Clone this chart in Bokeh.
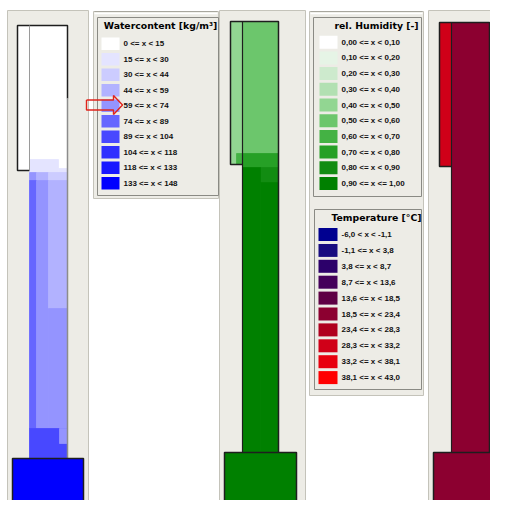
import numpy as np
from bokeh.plotting import figure
from bokeh.models import Range1d
from bokeh.core.properties import value
from bokeh.embed import file_html
from bokeh.resources import INLINE

# ---------------- legend classes ----------------
wc_title = "Watercontent [kg/m³]"
wc_bounds = [0, 15, 30, 44, 59, 74, 89, 104, 118, 133, 148]
wc_labels = ["0 <= x < 15", "15 <= x < 30", "30 <= x < 44", "44 <= x < 59", "59 <= x < 74",
             "74 <= x < 89", "89 <= x < 104", "104 <= x < 118", "118 <= x < 133", "133 <= x < 148"]
wc_colors = ["#FFFFFF", "#E4E4FF", "#CCCCFF", "#B2B2FF", "#9494FF",
             "#6666FF", "#4848FF", "#3030FF", "#1818FF", "#0000FF"]

rh_title = "rel. Humidity [-]"
rh_bounds = [0.0, 0.1, 0.2, 0.3, 0.4, 0.5, 0.6, 0.7, 0.8, 0.9, 1.0001]
rh_labels = ["0,00 <= x < 0,10", "0,10 <= x < 0,20", "0,20 <= x < 0,30", "0,30 <= x < 0,40",
             "0,40 <= x < 0,50", "0,50 <= x < 0,60", "0,60 <= x < 0,70", "0,70 <= x < 0,80",
             "0,80 <= x < 0,90", "0,90 <= x <= 1,00"]
rh_colors = ["#FFFFFF", "#E6F4E6", "#CDEACD", "#B2E0B2", "#92D692",
             "#6CC66C", "#44B244", "#26A026", "#128C12", "#008000"]

t_title = "Temperature [°C]"
t_bounds = [-6.0, -1.1, 3.8, 8.7, 13.6, 18.5, 23.4, 28.3, 33.2, 38.1, 43.0]
t_labels = ["-6,0 < x < -1,1", "-1,1 <= x < 3,8", "3,8 <= x < 8,7", "8,7 <= x < 13,6",
            "13,6 <= x < 18,5", "18,5 <= x < 23,4", "23,4 <= x < 28,3", "28,3 <= x < 33,2",
            "33,2 <= x < 38,1", "38,1 <= x < 43,0"]
t_colors = ["#000090", "#180C80", "#2C006A", "#44005A", "#5E0044",
            "#8C0030", "#B0001E", "#D00018", "#E8000E", "#FF0000"]

# ---------------- column cells (screen-unit mesh) and cell values ----------------
wc_left   = [17, 29, 58, 58, 29, 29, 36, 48, 29, 36, 48, 48, 29, 59, 12]
wc_right  = [29, 67, 67, 67, 58, 36, 48, 67, 36, 48, 67, 67, 67, 67, 83]
wc_top    = [25, 25, 159, 168, 159, 172, 172, 172, 180, 180, 180, 308, 428, 428, 458]
wc_bottom = [170, 159, 168, 172, 172, 180, 180, 180, 428, 428, 308, 428, 458, 443, 510]
wc_value  = [5, 5, 5, 22, 22, 66, 52, 37, 80, 66, 52, 66, 96, 66, 140]

rh_left   = [230, 236, 242, 242, 260, 242, 260, 224]
rh_right  = [242, 242, 278, 278, 278, 260, 278, 296]
rh_top    = [21, 153, 21, 153, 167, 167, 182, 452]
rh_bottom = [164, 164, 153, 167, 182, 452, 452, 505]
rh_value  = [0.45, 0.65, 0.55, 0.75, 0.85, 0.95, 0.95, 0.95]

t_left   = [439, 451, 433]
t_right  = [451, 489, 505]
t_top    = [22, 22, 452]
t_bottom = [166, 452, 505]
t_value  = [30.0, 20.5, 20.5]

# column outline geometry: water, humidity, temperature
col_narrow_left = [17, 230, 439]
col_stem_left = [29, 242, 451]
col_stem_right = [67, 278, 489]
col_top = [25, 21, 22]
col_narrow_bottom = [170, 164, 166]
col_base_left = [12, 224, 433]
col_base_right = [83, 296, 505]
col_base_top = [458, 452, 452]
col_base_bottom = [510, 505, 505]


def classify(vals, bounds, colors):
    idx = np.clip(np.searchsorted(bounds, vals, side="right") - 1, 0, len(colors) - 1)
    return [colors[i] for i in idx]


GREY = "#EDECE6"
FONT = value("Liberation Sans")
BFONT = value("DejaVu Sans")

p = figure(width=490, height=500, x_range=Range1d(0, 490), y_range=Range1d(500, 0),
           toolbar_location=None, output_backend="svg", min_border=0,
           x_axis_location=None, y_axis_location=None)
p.xgrid.visible = False
p.ygrid.visible = False
p.outline_line_color = None
p.background_fill_color = "white"
p.border_fill_color = "white"

# panels
pan_l = [7, 93, 219, 309, 428]
pan_r = [88, 218, 305, 423, 506]
pan_t = [10, 11, 10, 11, 10]
pan_b = [516, 198, 516, 395, 516]
p.quad(left=pan_l, right=pan_r, top=pan_t, bottom=pan_b, fill_color=GREY, line_color="#C4C3BA", line_width=1)
p.segment(x0=[94, 310], y0=[13, 13], x1=[217, 422], y1=[13, 13], line_color="#FFFFFF", line_width=1.5)
p.segment(x0=[94, 310], y0=[11, 11], x1=[217, 422], y1=[11, 11], line_color="#A8A79E", line_width=1)

# legend boxes
p.quad(left=[97, 313, 314], right=[218, 421, 421], top=[17, 17, 209], bottom=[195, 196, 389],
       fill_color=GREY, line_color="#8A8A84", line_width=1)

# column cells (outline in own colour to hide seams)
for L, R, T, B, V, bnd, cols in [(wc_left, wc_right, wc_top, wc_bottom, wc_value, wc_bounds, wc_colors),
                                 (rh_left, rh_right, rh_top, rh_bottom, rh_value, rh_bounds, rh_colors),
                                 (t_left, t_right, t_top, t_bottom, t_value, t_bounds, t_colors)]:
    c = classify(V, bnd, cols)
    p.quad(left=L, right=R, top=T, bottom=B, fill_color=c, line_color=c, line_width=0.8)

# column outlines
DARK = "#1E1E1E"
for i in range(3):
    nl, sl, sr = col_narrow_left[i], col_stem_left[i], col_stem_right[i]
    tp, nb, bt = col_top[i], col_narrow_bottom[i], col_base_top[i]
    if i == 0:
        p.line([sl, nl, nl, sr, sr], [nb, nb, tp, tp, 98], line_color=DARK, line_width=1.5)
        p.line([sr, sr], [98, bt], line_color="#8C8C8C", line_width=1.5)
        p.line([sl, sl], [tp, nb], line_color="#9A9A9A", line_width=1)
    else:
        p.line([sl, nl, nl, sr, sr], [nb, nb, tp, tp, bt], line_color=DARK, line_width=1.5)
        p.line([sl, sl], [tp, bt], line_color=DARK, line_width=1.2)
p.quad(left=col_base_left, right=col_base_right, top=col_base_top, bottom=col_base_bottom,
       fill_color=None, line_color=DARK, line_width=1.5)

# legends
n = len(wc_labels)
k = np.arange(n)
wc_y = 43.3 + 15.5 * k
rh_y = 41.7 + 15.7 * k
t_y = 234.0 + 15.9 * k
p.quad(left=101, right=119, top=wc_y - 6.3, bottom=wc_y + 6.3, fill_color=wc_colors, line_color=None)
p.quad(left=319, right=337, top=rh_y - 6.5, bottom=rh_y + 6.5, fill_color=rh_colors, line_color=None)
p.quad(left=318, right=337, top=t_y - 6.5, bottom=t_y + 6.5, fill_color=t_colors, line_color=None)
for xs, ys, labs in [(123, wc_y, wc_labels), (341, rh_y, rh_labels), (341, t_y, t_labels)]:
    p.text(x=[xs] * n, y=ys, text=labs, text_font=FONT, text_font_size="8px",
           text_font_style="bold", text_baseline="middle", text_color="#111111")
p.text(x=[160, 376, 376], y=[25, 25, 217], text=[wc_title, rh_title, t_title], text_font=BFONT,
       text_font_size="9.3px", text_font_style="bold", text_align="center",
       text_baseline="middle", text_color="black")

# red marker arrow pointing to the 59..74 class
arrow_x = [86, 113, 113, 122, 113, 113, 86, 86]
arrow_y = [99.5, 99.5, 95, 104.5, 114, 109.5, 109.5, 99.5]
p.line(arrow_x, arrow_y, line_color="#E0241C", line_width=1.4)

open("out.html", "w").write(file_html(p, INLINE))
